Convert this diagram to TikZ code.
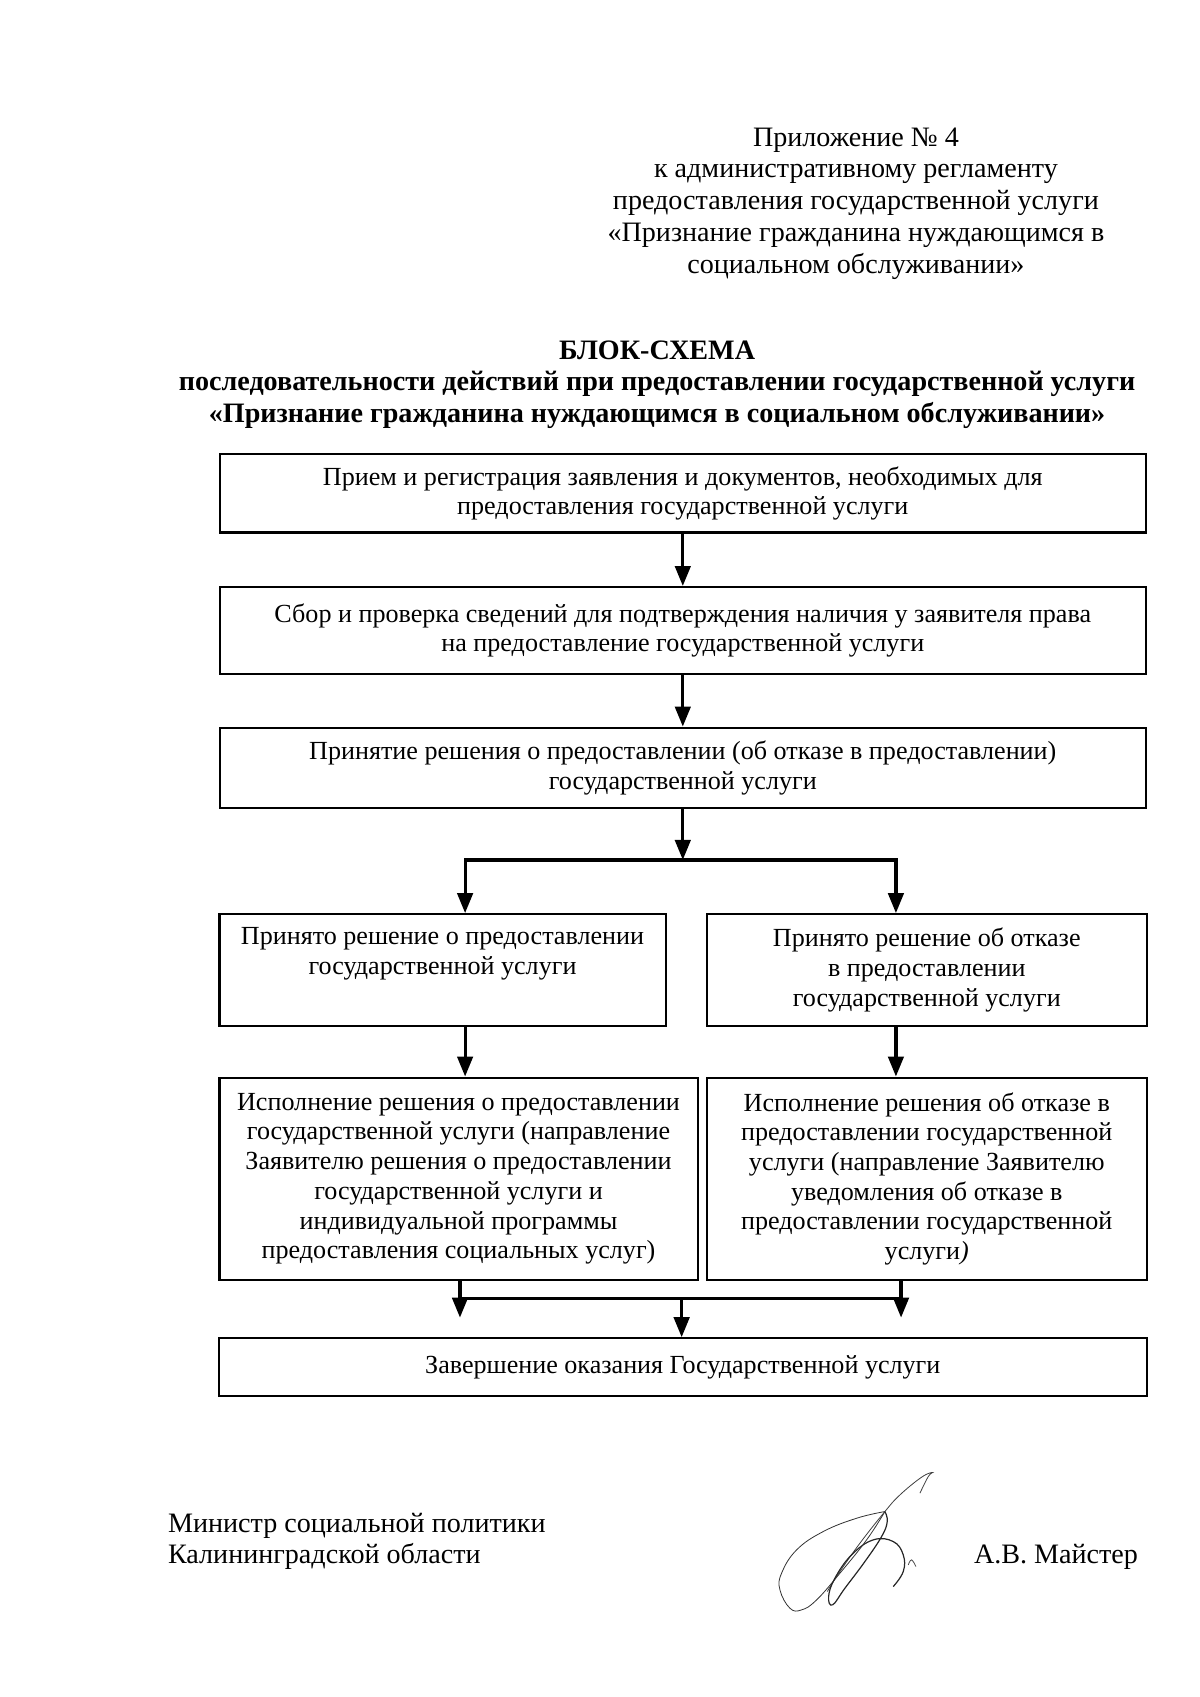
\documentclass[tikz,border=0pt]{standalone}
\usepackage{fontspec}
\setmainfont{Liberation Serif}
\usetikzlibrary{positioning,arrows.meta}

\newcommand{\boxfont}{\fontsize{13pt}{14.8pt}\selectfont}
\newcommand{\headfont}{\fontsize{14pt}{15.8pt}\selectfont}

\begin{document}
\begin{tikzpicture}[
x=1mm, y=-1mm,
node distance=24mm,
every node/.style={
align=center,
inner sep=0pt,
font=\boxfont
},
arrow/.style={-{Triangle[width=2.7mm,length=3.5mm]}, line width=1.6pt},
link/.style={line width=1.6pt}
]

\useasboundingbox (0,0) rectangle (210,297);

% =====================================================
% Styles
% =====================================================

\tikzstyle{stagebox} =
[rectangle,
draw=black,
line width=1.1pt,
minimum width=162mm]

\tikzstyle{branchbox} =
[rectangle,
draw=black,
line width=1.1pt,
minimum height=19.5mm]

\tikzstyle{runbox} =
[rectangle,
draw=black,
line width=1.1pt,
minimum height=35.4mm]

\tikzstyle{plain} =
[font=\headfont]

% =====================================================
% Heading
% =====================================================

\node (annex) [plain] at (149.8,35.6)
{Приложение № 4\\
к административному регламенту\\
предоставления государственной услуги\\
«Признание гражданина нуждающимся в\\
социальном обслуживании»};

\node (title) [plain, font=\headfont\bfseries] at (115,67.3)
{БЛОК-СХЕМА\\
последовательности действий при предоставлении государственной услуги\\
«Признание гражданина нуждающимся в социальном обслуживании»};

% =====================================================
% Nodes
% =====================================================

\node (reg) [stagebox, minimum height=13.7mm] at (119.5,86.35)
{Прием и регистрация заявления и документов, необходимых для\\
предоставления государственной услуги};

\node (check) [stagebox, minimum height=15.2mm, below of=reg]
{Сбор и проверка сведений для подтверждения наличия у заявителя права\\
на предоставление государственной услуги};

\node (decide) [stagebox, minimum height=14mm, below of=check]
{Принятие решения о предоставлении (об отказе в предоставлении)\\
государственной услуги};

\node (granted) [branchbox, minimum width=78.1mm] at (77.45,169.75)
{Принято решение о предоставлении\\
государственной услуги\\ \strut};

\node (refused) [branchbox, minimum width=77.05mm] at (162.2,169.75)
{Принято решение об отказе\\
в предоставлении\\
государственной услуги};

\node (dogrant) [runbox, minimum width=83.7mm] at (80.25,206.3)
{Исполнение решения о предоставлении\\
государственной услуги (направление\\
Заявителю решения о предоставлении\\
государственной услуги и\\
индивидуальной программы\\
предоставления социальных услуг)};

\node (dorefuse) [runbox, minimum width=77.05mm] at (162.2,206.3)
{Исполнение решения об отказе в\\
предоставлении государственной\\
услуги (направление Заявителю\\
уведомления об отказе в\\
предоставлении государственной\\
услуги\textit{)}};

\node (finish) [stagebox, minimum width=162.45mm, minimum height=10.05mm] at (119.5,239.25)
{Завершение оказания Государственной услуги};

\coordinate (split) at (119.5,150.5);
\coordinate (lsplit) at (81.4,150.5);
\coordinate (rsplit) at (156.8,150.5);
\coordinate (merge) at (119.3,227.2);
\coordinate (lmerge) at (80.5,227.2);
\coordinate (rmerge) at (157.7,227.2);
\coordinate (lend) at (80.5,230.6);
\coordinate (rend) at (157.7,230.6);

% =====================================================
% Arrows
% =====================================================

\draw [arrow] (reg) -- (check);

\draw [arrow] (check) -- (decide);

\draw [arrow] (decide.south) -- (split);

\draw [arrow] (rsplit) -- (lsplit) -- (lsplit |- granted.north);

\draw [arrow] (lsplit) -- (rsplit) -- (rsplit |- refused.north);

\draw [arrow] (granted.south -| lsplit) -- (dogrant.north -| lsplit);

\draw [arrow] (refused.south -| rsplit) -- (dorefuse.north -| rsplit);

\draw [arrow] (dogrant.south -| lmerge) -- (lend);

\draw [arrow] (dorefuse.south -| rmerge) -- (rend);

\draw [link] (lmerge) -- (rmerge);

\draw [arrow] (merge) -- (merge |- finish.north);

% =====================================================
% Signature
% =====================================================

\node (post) [plain, align=left, anchor=west] at (29.35,269.75)
{Министр социальной политики\\
Калининградской области};

\node (minister) [plain, anchor=west] at (170.4,272.5)
{А.В. Майстер};

\draw [line width=0.4pt, black!80] plot [smooth, tension=0.7] coordinates
{(154.87,264.54) (149.92,265.71) (144.08,268.04) (139.42,271.25) (136.79,275.33)
(136.5,278.25) (138.25,281.46) (140.29,281.75) (142.92,280.0) (147.0,275.33)
(151.67,269.5) (154.87,264.54)};

\draw [line width=0.4pt, black!75] plot [smooth, tension=0.7] coordinates
{(161.0,261.33) (162.46,258.42) (163.2,257.7) (161.29,258.53) (157.5,261.63)
(154.87,264.54) (150.5,270.08) (147.0,275.04) (144.78,278.54)};

\draw [line width=0.6pt, black!85] plot [smooth, tension=0.7] coordinates
{(154.87,264.54) (155.28,266.29) (154.29,268.92) (151.37,273.29) (147.87,277.96)
(145.72,280.87) (145.02,279.42) (146.12,276.21) (149.04,272.12) (152.83,269.5)
(156.33,269.79) (158.08,272.12) (158.08,275.04) (156.33,277.67)};

\draw [line width=0.4pt, black!70] plot [smooth, tension=0.7] coordinates
{(158.96,273.88) (159.54,273.0) (160.3,274.17)};

\end{tikzpicture}
\end{document}
